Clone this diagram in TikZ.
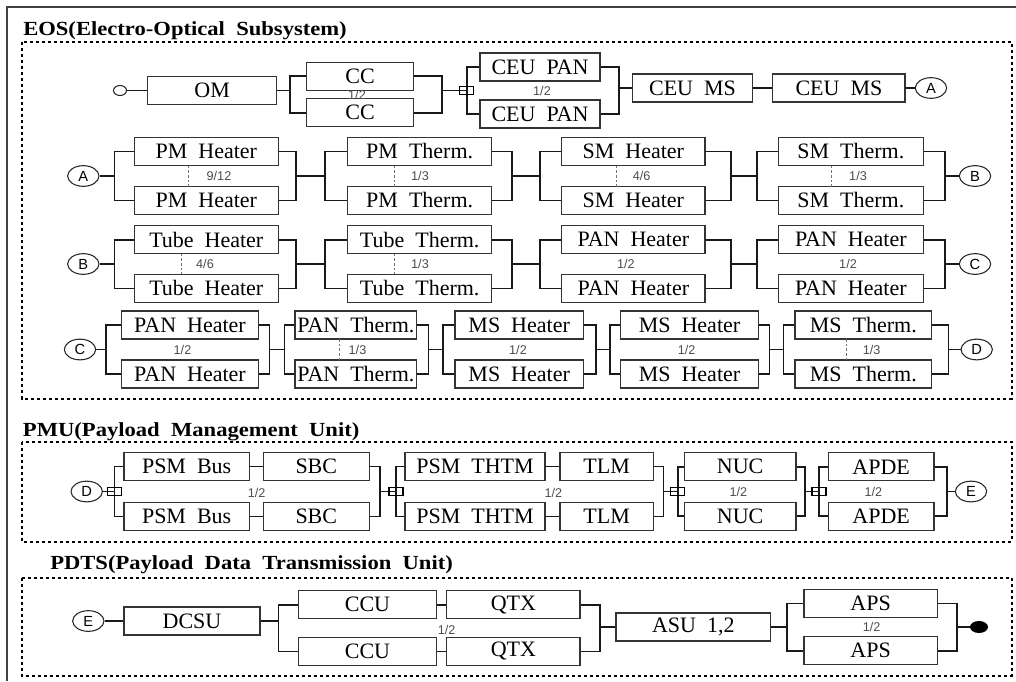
\documentclass[tikz,border=0pt]{standalone}
\usepackage{fontspec}
\setmainfont{Liberation Serif}
\newfontfamily\ttlfont[FakeStretch=1.13]{Liberation Serif}
\newfontfamily\numfont{Liberation Sans}
\usetikzlibrary{shapes.geometric}
\tikzset{>=stealth,
  blk/.style={draw=black!80, line width=1pt, inner sep=0pt, minimum height=21pt,
    font=\fontsize{16.5}{18}\selectfont},
  wire/.style={line width=1.2pt, black!90},
  grp/.style={line width=1.5pt, dash pattern=on 2.2pt off 2.3pt},
  conn/.style={ellipse, draw=black!85, line width=0.8pt, minimum width=23.5pt,
    minimum height=15.5pt, inner sep=0pt, font=\numfont\fontsize{11}{12}\selectfont},
  kofn/.style={inner sep=0pt, text=black!70, font=\numfont\fontsize{9.5}{10}\selectfont},
  tick/.style={black!55, line width=0.6pt, dash pattern=on 2pt off 1.5pt},
  swbox/.style={draw, line width=0.8pt, minimum width=10.5pt, minimum height=6pt, inner sep=0pt},
  ttl/.style={anchor=base west, inner sep=0pt, font=\ttlfont\bfseries\fontsize{15}{17}\selectfont}}

\begin{document}
\begin{tikzpicture}[x=0.75pt, y=-0.75pt]
\useasboundingbox (0,0) rectangle (1016,681);
\draw[black!75, line width=1.1pt] (7,681) -- (7,7) -- (1016,7);
% subsystems
\draw[grp] (22,42) rectangle (1011.7,398.7);
\draw[grp] (22,441.7) rectangle (1011.7,541.7);
\draw[grp] (22,578.3) rectangle (1011.7,676);
\node[ttl] (eos) at (23,36) {EOS(Electro-Optical~~Subsystem)};
\node[ttl] (pmu) at (22.7,436.5) {PMU(Payload~~Management~~Unit)};
\node[ttl] (pdts) at (50,569.5) {PDTS(Payload~~Data~~Transmission~~Unit)};

% redundant pairs
\foreach \n/\xl/\xr/\bl/\br/\yc/\dy/\lbl/\nm/\dn/\rx/\dx in {
  cc/306.7/413.3/290/441.7/94.5/18.3/CC/1/2/357/0,
  ceu/480/600/466.7/619/90.5/23.5/CEU~~PAN/1/2/542/0,
  pmh/134.3/278.3/114.3/296/176/24.5/PM~~Heater/9/12/219/188.3,
  pmt/347.7/491.7/325/511.7/176/24.5/PM~~Therm./1/3/420/394.3,
  smh/561.7/705/540/730.7/176/24.5/SM~~Heater/4/6/641.7/616.7,
  smt/778.3/923.3/756.7/945/176/24.5/SM~~Therm./1/3/858/831.7,
  tbh/134.3/278.3/114.3/296/264/24.3/Tube~~Heater/4/6/205/181.7,
  tbt/347.7/491.7/325/511.7/264/24.3/Tube~~Therm./1/3/420/394.3,
  pnh/561.7/705/540/730.7/264/24.3/PAN~~Heater/1/2/625.8/0,
  pnk/778.3/923.3/756.7/945/264/24.3/PAN~~Heater/1/2/848/0,
  pah/121.7/258.3/106/269.3/349.5/24.5/PAN~~Heater/1/2/182.5/0,
  pat/295/416.7/284.3/428.3/349.5/24.5/PAN~~Therm./1/3/357.5/339.3,
  msh/455/583.3/442.7/596/349.5/24.5/MS~~Heater/1/2/518/0,
  msk/620.7/758.3/610/769.3/349.5/24.5/MS~~Heater/1/2/686.7/0,
  mst/795/931.7/783.3/948.3/349.5/24.5/MS~~Therm./1/3/871.7/846.7,
  nuc/684.3/796/677.7/805/491.5/24.7/NUC/1/2/738.3/0,
  apd/828.3/934/819/946.7/491.5/24.7/APDE/1/2/873.3/0,
  aps/804/937.3/786.7/956.7/627/23.7/APS/1/2/871.7/0}{
  \node[blk, minimum width={(\xr-\xl)*0.75pt}] (\n-t) at ({(\xl+\xr)/2},{\yc-\dy}) {\lbl};
  \node[blk, minimum width={(\xr-\xl)*0.75pt}] (\n-b) at ({(\xl+\xr)/2},{\yc+\dy}) {\lbl};
  \coordinate (\n-l) at (\bl,\yc);
  \coordinate (\n-r) at (\br,\yc);
  \draw[wire] (\n-t.west) -| (\n-l) |- (\n-b.west);
  \draw[wire] (\n-t.east) -| (\n-r) |- (\n-b.east);
  \node[kofn] (\n-k) at (\rx,\yc) {\nm/\dn};
  \ifdim\dx pt>0pt \draw[tick] (\dx,{\yc-\dy+14}) -- (\dx,{\yc+\dy-14}); \fi
}

% pairs of two units in series
\foreach \n/\xa/\xb/\xc/\xd/\bl/\br/\yc/\dy/\la/\lb/\rx in {
  psm/124/249.3/263.3/369.3/114.3/380/491.5/25/PSM~~Bus/SBC/256.7,
  tht/405/545/560/653.3/396/663.3/491.5/25/PSM~~THTM/TLM/553.3,
  ccu/298.3/436.7/446.7/580/278.3/600/628/23.3/CCU/QTX/446.7}{
  \node[blk, minimum width={(\xb-\xa)*0.75pt}] (\n-t) at ({(\xa+\xb)/2},{\yc-\dy}) {\la};
  \node[blk, minimum width={(\xd-\xc)*0.75pt}] (\n-u) at ({(\xc+\xd)/2},{\yc-\dy}) {\lb};
  \node[blk, minimum width={(\xb-\xa)*0.75pt}] (\n-b) at ({(\xa+\xb)/2},{\yc+\dy}) {\la};
  \node[blk, minimum width={(\xd-\xc)*0.75pt}] (\n-c) at ({(\xc+\xd)/2},{\yc+\dy}) {\lb};
  \coordinate (\n-l) at (\bl,\yc);
  \coordinate (\n-r) at (\br,\yc);
  \draw[wire] (\n-t) -- (\n-u) (\n-b) -- (\n-c);
  \draw[wire] (\n-t.west) -| (\n-l) |- (\n-b.west);
  \draw[wire] (\n-u.east) -| (\n-r) |- (\n-c.east);
  \node[kofn] (\n-k) at (\rx,{\yc+1.5}) {1/2};
}

% single units
\node[blk, minimum width=96.75pt] (om) at (212.2,90.5) {OM};
\node[blk, minimum width=90.3pt] (ms1) at (692.5,88) {CEU~~MS};
\node[blk, minimum width=99.2pt] (ms2) at (838.9,88) {CEU~~MS};
\node[blk, minimum width=102pt] (dcsu) at (192,621) {DCSU};
\node[blk, minimum width=116pt] (asu) at (693.3,627) {ASU~~1,2};

% off-page connectors
\node[draw=black!85, line width=0.8pt, ellipse, minimum width=9.75pt, minimum height=7.5pt, inner sep=0pt] (start) at (120,90.5) {};
\node[fill, ellipse, minimum width=13.5pt, minimum height=9pt, inner sep=0pt] (stop) at (979,627) {};
\node[conn] (A1) at (931,88) {A};
\node[conn] (A2) at (83.3,176) {A};
\node[conn] (B1) at (975,176) {B};
\node[conn] (B2) at (83.3,264) {B};
\node[conn] (C1) at (975,264) {C};
\node[conn] (C2) at (80,349.5) {C};
\node[conn] (D1) at (976.7,349.5) {D};
\node[conn] (D2) at (86.7,491.5) {D};
\node[conn] (E1) at (971,491.5) {E};
\node[conn] (E2) at (88.3,621) {E};

\draw[wire] (start) -- (om) (om.east) -- (om.east -| cc-l) (cc-r |- ceu-l) -- (ceu-l)
  (ceu-r |- ms1.west) -- (ms1) (ms1) -- (ms2) (ms2) -- (A1);
\draw[wire] (A2) -- (pmh-l) (pmh-r) -- (pmt-l) (pmt-r) -- (smh-l) (smh-r) -- (smt-l) (smt-r) -- (B1);
\draw[wire] (B2) -- (tbh-l) (tbh-r) -- (tbt-l) (tbt-r) -- (pnh-l) (pnh-r) -- (pnk-l) (pnk-r) -- (C1);
\draw[wire] (C2) -- (pah-l) (pah-r) -- (pat-l) (pat-r) -- (msh-l) (msh-r) -- (msk-l) (msk-r) -- (mst-l) (mst-r) -- (D1);
\draw[wire] (D2) -- (psm-l) (psm-r) -- (tht-l) (tht-r) -- (nuc-l) (nuc-r) -- (apd-l) (apd-r) -- (E1);
\draw[wire] (E2) -- (dcsu) (dcsu.east) -- (dcsu.east -| ccu-l) (ccu-r |- asu.west) -- (asu)
  (asu.east) -- (asu.east -| aps-l) (aps-r) -- (stop);
\foreach \s in {ceu,psm,tht,nuc,apd} \node[swbox] (\s-sw) at (\s-l) {};
\end{tikzpicture}
\end{document}
